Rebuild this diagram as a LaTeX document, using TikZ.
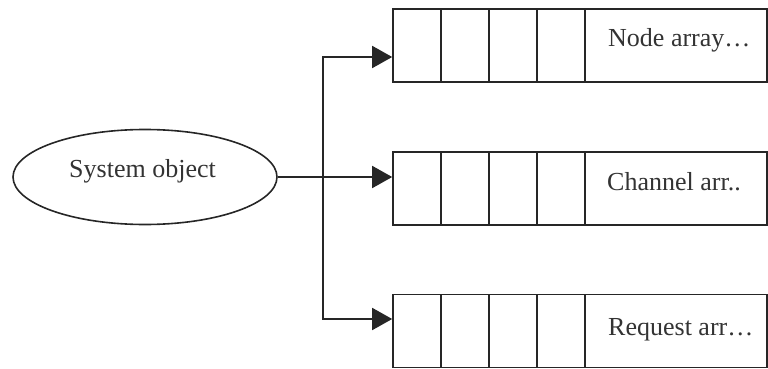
\documentclass[tikz,border=0pt]{standalone}
\usepackage{fontspec}
\setmainfont{Liberation Serif}
\usetikzlibrary{arrows.meta,shapes.geometric}
\begin{document}
\begin{tikzpicture}[x=1pt,y=-1pt,
  ink/.style={draw=black!85,line width=1.6pt},
  cell/.style={ink,rectangle,inner sep=0pt,minimum width=48pt,minimum height=73pt},
  namecell/.style={ink,rectangle,inner sep=0pt,minimum width=182pt,minimum height=73pt},
  lbl/.style={inner sep=0pt,anchor=base west,font=\fontsize{26}{30}\selectfont,text=black!80},
  conn/.style={ink,-{Triangle[length=20pt,width=22pt]}}]
\useasboundingbox (0,0) rectangle (768,369);

% source object
\node[ink,ellipse,minimum width=264pt,minimum height=95pt,inner sep=0pt] (sys) at (145,177) {};
\node[inner sep=0pt,anchor=base,font=\fontsize{26}{30}\selectfont,text=black!80] (systxt) at (142.5,177) {System object};

% three arrays: four slots and a name field each
\foreach \r/\yc in {a/45.5, b/188.5, c/331}{
  \node[cell] (\r1) at (417,\yc) {};
  \node[cell] (\r2) at (465,\yc) {};
  \node[cell] (\r3) at (513,\yc) {};
  \node[cell] (\r4) at (561,\yc) {};
  \node[namecell] (\r5) at (676,\yc) {};
}
\node[lbl] (atxt) at (608,47) {Node array…};
\node[lbl] (btxt) at (607,190) {Channel arr..};
\node[lbl] (ctxt) at (608,335) {Request arr…};

% connectors
\coordinate (jn) at (323,177);
\draw[conn] (sys.east) -- (sys.east -| b1.west);
\draw[conn] (jn) |- ([yshift=-11.5pt]a1.west);
\draw[conn] (jn) |- ([yshift=12pt]c1.west);
\end{tikzpicture}
\end{document}
